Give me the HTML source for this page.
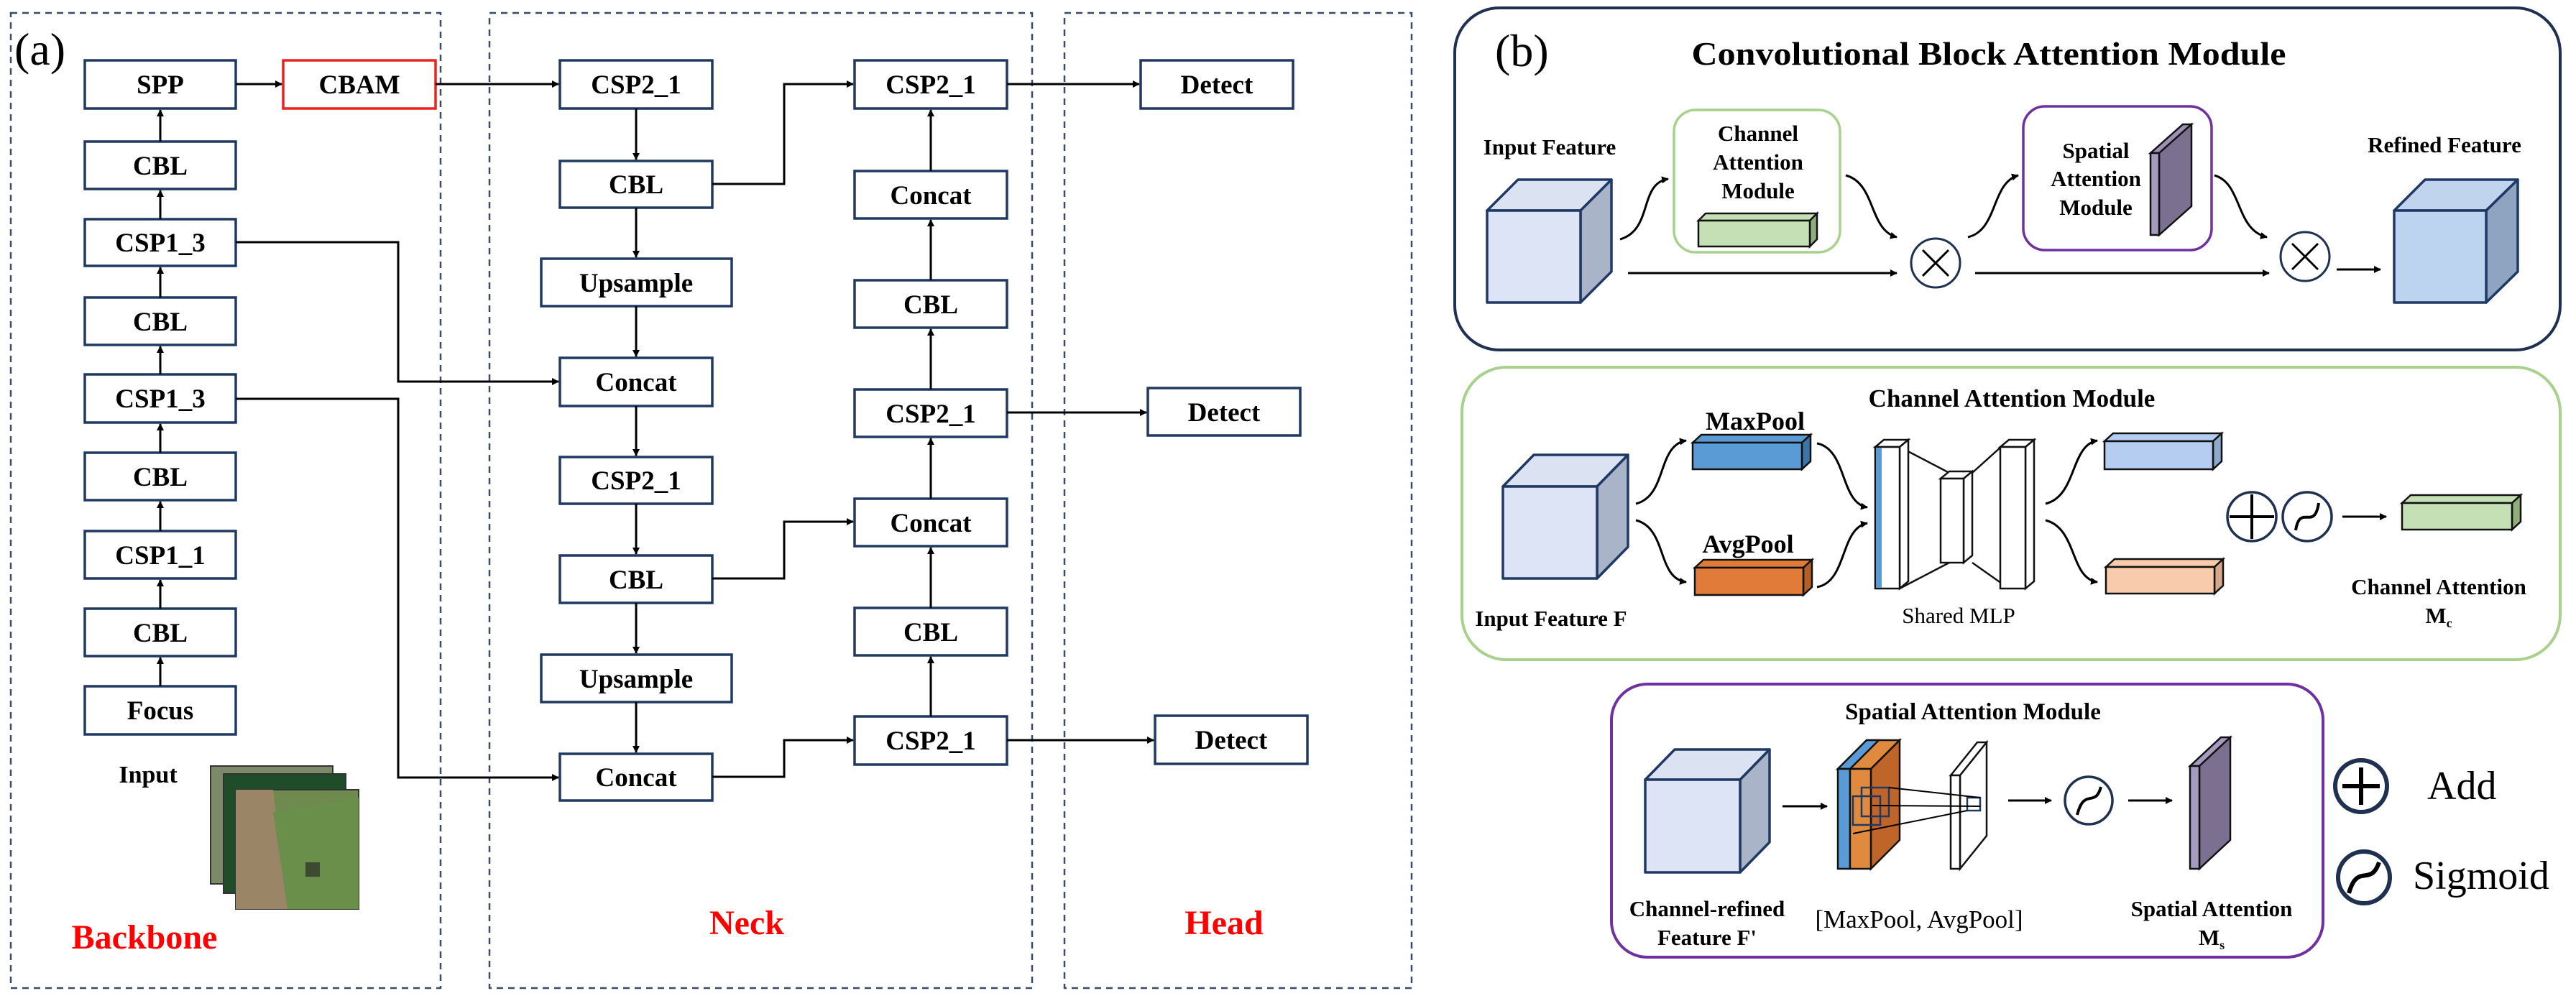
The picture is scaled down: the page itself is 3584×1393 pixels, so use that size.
<!DOCTYPE html>
<html><head><meta charset="utf-8"><style>
html,body{margin:0;padding:0;background:#fff;}
svg{display:block;font-family:"Liberation Serif","Times New Roman",serif;}
svg text{font-family:"Liberation Serif","Times New Roman",serif;}
</style></head><body>
<svg width="3584" height="1393" viewBox="0 0 3584 1393" xmlns="http://www.w3.org/2000/svg" font-family="Liberation Serif, serif">
<defs>
<marker id="ar" markerWidth="10" markerHeight="10" refX="9" refY="5" orient="auto" markerUnits="userSpaceOnUse" viewBox="0 0 10 10">
<path d="M0,0 L10,5 L0,10 z" fill="#000"/></marker>
</defs>

<g fill="none" stroke="#3a4a6b" stroke-width="2.5" stroke-dasharray="9,7">
<rect x="15" y="18" width="598" height="1357"/>
<rect x="681" y="18" width="755" height="1357"/>
<rect x="1481" y="18" width="483" height="1357"/>
</g>
<text x="20" y="90" font-size="64" font-family="Liberation Serif, serif">(a)</text>

<g fill="#fff" stroke="#1f3864" stroke-width="3.5">
<rect x="118" y="84" width="210" height="67"/>
<rect x="118" y="197" width="210" height="66"/>
<rect x="118" y="305" width="210" height="65"/>
<rect x="118" y="414" width="210" height="66"/>
<rect x="118" y="521" width="210" height="67"/>
<rect x="118" y="630" width="210" height="66"/>
<rect x="118" y="739" width="210" height="66"/>
<rect x="118" y="847" width="210" height="66"/>
<rect x="118" y="955" width="210" height="67"/>
<rect x="779" y="84" width="212" height="67"/>
<rect x="779" y="224" width="212" height="65"/>
<rect x="753" y="360" width="265" height="66"/>
<rect x="779" y="498" width="212" height="67"/>
<rect x="779" y="636" width="212" height="65"/>
<rect x="779" y="773" width="212" height="66"/>
<rect x="753" y="911" width="265" height="66"/>
<rect x="779" y="1049" width="212" height="65"/>
<rect x="1189" y="84" width="212" height="67"/>
<rect x="1189" y="238" width="212" height="66"/>
<rect x="1189" y="390" width="212" height="66"/>
<rect x="1189" y="542" width="212" height="66"/>
<rect x="1189" y="694" width="212" height="66"/>
<rect x="1189" y="846" width="212" height="66"/>
<rect x="1189" y="997" width="212" height="67"/>
<rect x="1587" y="84" width="212" height="67"/>
<rect x="1597" y="540" width="212" height="66"/>
<rect x="1607" y="996" width="212" height="67"/>
</g>
<rect x="394" y="84" width="212" height="67" fill="#fff" stroke="#e8231f" stroke-width="3.5"/>

<g font-size="37" text-anchor="middle" font-weight="bold" font-family="Liberation Serif, serif">
<text x="223" y="130">SPP</text>
<text x="223" y="243">CBL</text>
<text x="223" y="350">CSP1_3</text>
<text x="223" y="460">CBL</text>
<text x="223" y="567">CSP1_3</text>
<text x="223" y="676">CBL</text>
<text x="223" y="785">CSP1_1</text>
<text x="223" y="893">CBL</text>
<text x="223" y="1001">Focus</text>
<text x="500" y="130">CBAM</text>
<text x="885" y="130">CSP2_1</text>
<text x="885" y="269">CBL</text>
<text x="885" y="406">Upsample</text>
<text x="885" y="544">Concat</text>
<text x="885" y="681">CSP2_1</text>
<text x="885" y="819">CBL</text>
<text x="885" y="957">Upsample</text>
<text x="885" y="1094">Concat</text>
<text x="1295" y="130">CSP2_1</text>
<text x="1295" y="284">Concat</text>
<text x="1295" y="436">CBL</text>
<text x="1295" y="588">CSP2_1</text>
<text x="1295" y="740">Concat</text>
<text x="1295" y="892">CBL</text>
<text x="1295" y="1043">CSP2_1</text>
<text x="1693" y="130">Detect</text>
<text x="1703" y="586">Detect</text>
<text x="1713" y="1042">Detect</text>
<text x="206" y="1089" font-size="34">Input</text>
</g>
<g font-weight="bold" fill="#ff0000" text-anchor="middle" font-size="48" font-family="Liberation Serif, serif">
<text x="201" y="1320">Backbone</text>
<text x="1039" y="1300">Neck</text>
<text x="1703" y="1300">Head</text>
</g>

<rect x="293" y="1066" width="170" height="164" fill="#7d8a6a" stroke="#333" stroke-width="2"/>
<rect x="311" y="1077" width="170" height="166" fill="#1f4d2a" stroke="#333" stroke-width="2"/>
<rect x="328" y="1099" width="171" height="166" fill="#6f8a4e" stroke="#333" stroke-width="2"/>
<polygon points="328,1099 380,1099 400,1265 328,1265" fill="#9a8566"/>
<polygon points="380,1130 499,1110 499,1265 400,1265" fill="#6a8f4a"/>
<rect x="425" y="1200" width="20" height="20" fill="#3c4a30"/>

<g stroke="#000" stroke-width="3" fill="none" marker-end="url(#ar)">
<line x1="223" y1="197" x2="223" y2="153"/>
<line x1="223" y1="305" x2="223" y2="265"/>
<line x1="223" y1="414" x2="223" y2="372"/>
<line x1="223" y1="521" x2="223" y2="482"/>
<line x1="223" y1="630" x2="223" y2="590"/>
<line x1="223" y1="739" x2="223" y2="698"/>
<line x1="223" y1="847" x2="223" y2="807"/>
<line x1="223" y1="955" x2="223" y2="915"/>
<line x1="328" y1="117" x2="392" y2="117"/>
<line x1="606" y1="117" x2="777" y2="117"/>
<polyline points="328,337 554,337 554,531 777,531"/>
<polyline points="328,555 554,555 554,1082 777,1082"/>
<line x1="885" y1="151" x2="885" y2="222"/>
<line x1="885" y1="289" x2="885" y2="358"/>
<line x1="885" y1="426" x2="885" y2="496"/>
<line x1="885" y1="565" x2="885" y2="634"/>
<line x1="885" y1="701" x2="885" y2="771"/>
<line x1="885" y1="839" x2="885" y2="909"/>
<line x1="885" y1="977" x2="885" y2="1047"/>
<polyline points="991,256 1091,256 1091,117 1187,117"/>
<polyline points="991,805 1091,805 1091,726 1187,726"/>
<polyline points="991,1081 1091,1081 1091,1030 1187,1030"/>
<line x1="1295" y1="238" x2="1295" y2="153"/>
<line x1="1295" y1="390" x2="1295" y2="306"/>
<line x1="1295" y1="542" x2="1295" y2="458"/>
<line x1="1295" y1="694" x2="1295" y2="610"/>
<line x1="1295" y1="846" x2="1295" y2="762"/>
<line x1="1295" y1="997" x2="1295" y2="914"/>
<line x1="1401" y1="117" x2="1585" y2="117"/>
<line x1="1401" y1="574" x2="1595" y2="574"/>
<line x1="1401" y1="1030" x2="1605" y2="1030"/>
</g>

<!-- Panel B -->
<rect x="2024" y="11" width="1538" height="476" rx="62" fill="none" stroke="#1f3050" stroke-width="4"/>
<text x="2080" y="92" font-size="64" font-family="Liberation Serif, serif">(b)</text>
<text x="2767" y="90" font-size="46" font-weight="bold" text-anchor="middle" textLength="827" lengthAdjust="spacingAndGlyphs" font-family="Liberation Serif, serif">Convolutional Block Attention Module</text>

<g stroke="#1f3864" stroke-width="3.5" stroke-linejoin="round">
<polygon points="2069,293 2112,250 2242,250 2199,293" fill="#dbe3f3"/>
<polygon points="2199,293 2242,250 2242,378 2199,421" fill="#aab4c8"/>
<rect x="2069" y="293" width="130" height="128" fill="#dce4f5"/>
</g>

<g font-size="31" font-weight="bold" text-anchor="middle" font-family="Liberation Serif, serif">
<text x="2156" y="215">Input Feature</text>
<text x="2446" y="196">Channel</text>
<text x="2446" y="236">Attention</text>
<text x="2446" y="276">Module</text>
<text x="2916" y="220">Spatial</text>
<text x="2916" y="259">Attention</text>
<text x="2916" y="299">Module</text>
<text x="3401" y="212">Refined Feature</text>
</g>

<rect x="2329" y="153" width="231" height="198" rx="30" fill="none" stroke="#a9d18e" stroke-width="3.5"/>
<g stroke="#111" stroke-width="2.5">
<polygon points="2363,307 2373,297 2528,297 2518,307" fill="#c5e0b4"/>
<polygon points="2518,307 2528,297 2528,333 2518,343" fill="#8fae7c"/>
<rect x="2363" y="307" width="155" height="36" fill="#c5e0b4"/>
</g>

<rect x="2815" y="148" width="262" height="200" rx="30" fill="none" stroke="#7030a0" stroke-width="3.5"/>
<g stroke="#111" stroke-width="2.5">
<polygon points="2992,213 3037,173 3049,173 3004,213" fill="#9c90b5"/>
<polygon points="3004,213 3049,173 3049,287 3004,327" fill="#7b7090"/>
<rect x="2992" y="213" width="12" height="114" fill="#a59bbf"/>
</g>

<g stroke="#1f3864" stroke-width="3.5" stroke-linejoin="round">
<polygon points="3331,293 3374,250 3503,250 3459,293" fill="#c0d4ee"/>
<polygon points="3459,293 3503,250 3503,378 3459,421" fill="#8ea4c0"/>
<rect x="3331" y="293" width="128" height="128" fill="#bdd4f0"/>
</g>

<g stroke="#000" stroke-width="3" fill="none" marker-end="url(#ar)">
<path d="M2254,333 C2300,320 2280,255 2321,249"/>
<path d="M2568,244 C2610,255 2600,320 2639,330"/>
<line x1="2265" y1="380" x2="2639" y2="380"/>
<path d="M2738,330 C2780,320 2770,255 2808,244"/>
<path d="M3081,244 C3120,255 3110,320 3154,330"/>
<line x1="2748" y1="380" x2="3157" y2="380"/>
<line x1="3251" y1="375" x2="3312" y2="375"/>
</g>
<g stroke="#1f3050" stroke-width="3" fill="#fff">
<circle cx="2693" cy="366" r="34"/>
<circle cx="3207" cy="357" r="34"/>
</g>
<g stroke="#000" stroke-width="3">
<line x1="2675" y1="348" x2="2711" y2="384"/><line x1="2711" y1="348" x2="2675" y2="384"/>
<line x1="3189" y1="339" x2="3225" y2="375"/><line x1="3225" y1="339" x2="3189" y2="375"/>
</g>

<!-- Channel Attention Module -->
<rect x="2034" y="511" width="1528" height="407" rx="62" fill="none" stroke="#a9d18e" stroke-width="4"/>
<g stroke="#1f3864" stroke-width="3.5" stroke-linejoin="round">
<polygon points="2091,677 2134,633 2265,633 2222,677" fill="#dbe3f3"/>
<polygon points="2222,677 2265,633 2265,761 2222,805" fill="#aab4c8"/>
<rect x="2091" y="677" width="131" height="128" fill="#dce4f5"/>
</g>
<g font-weight="bold" text-anchor="middle" font-family="Liberation Serif, serif">
<text x="2799" y="566" font-size="35">Channel Attention Module</text>
<text x="2158" y="871" font-size="31">Input Feature F</text>
<text x="2442" y="598" font-size="36">MaxPool</text>
<text x="2432" y="769" font-size="36">AvgPool</text>
<text x="3393" y="827" font-size="31">Channel Attention</text>
<text x="3393" y="867" font-size="31">M<tspan font-size="18" dy="6">c</tspan></text>
</g>
<g stroke="#111" stroke-width="2.5">
<polygon points="2355,616 2367,605 2519,605 2507,616" fill="#5b9bd5"/>
<polygon points="2507,616 2519,605 2519,642 2507,653" fill="#3f74a8"/>
<rect x="2355" y="616" width="152" height="37" fill="#5b9bd5"/>
<polygon points="2358,790 2370,779 2521,779 2509,790" fill="#e07b39"/>
<polygon points="2509,790 2521,779 2521,817 2509,828" fill="#b35f28"/>
<rect x="2358" y="790" width="151" height="38" fill="#e07b39"/>
<polygon points="2928,614 2940,603 3091,603 3079,614" fill="#b4cdf0"/>
<polygon points="3079,614 3091,603 3091,642 3079,653" fill="#8fa8cc"/>
<rect x="2928" y="614" width="151" height="39" fill="#b4cdf0"/>
<polygon points="2930,789 2942,778 3093,778 3081,789" fill="#f8cbad"/>
<polygon points="3081,789 3093,778 3093,815 3081,826" fill="#d5a88a"/>
<rect x="2930" y="789" width="151" height="37" fill="#f8cbad"/>
<polygon points="3342,700 3354,689 3507,689 3495,700" fill="#c5e0b4"/>
<polygon points="3495,700 3507,689 3507,726 3495,737" fill="#8fae7c"/>
<rect x="3342" y="700" width="153" height="37" fill="#c5e0b4"/>
</g>
<g stroke="#111" stroke-width="2.5" fill="#fff">
<line x1="2643" y1="622" x2="2712" y2="658"/><line x1="2643" y1="819" x2="2712" y2="783"/>
<line x1="2744" y1="658" x2="2795" y2="612"/><line x1="2744" y1="783" x2="2795" y2="819"/>
<polygon points="2609,622 2621,612 2655,612 2643,622"/>
<polygon points="2643,622 2655,612 2655,809 2643,819"/>
<rect x="2609" y="622" width="34" height="197"/>
<rect x="2610" y="623" width="8" height="195" fill="#5b9bd5" stroke="none"/>
<polygon points="2700,666 2712,656 2744,656 2732,666"/>
<polygon points="2732,666 2744,656 2744,773 2732,783"/>
<rect x="2700" y="666" width="32" height="117"/>
<polygon points="2783,622 2795,612 2830,612 2818,622"/>
<polygon points="2818,622 2830,612 2830,809 2818,819"/>
<rect x="2783" y="622" width="35" height="197"/>
</g>
<text x="2725" y="867" font-size="31" text-anchor="middle" font-family="Liberation Serif, serif">Shared MLP</text>
<g stroke="#000" stroke-width="3" fill="none" marker-end="url(#ar)">
<path d="M2276,701 C2320,690 2305,620 2346,613"/>
<path d="M2276,724 C2320,735 2305,805 2346,810"/>
<path d="M2528,617 C2570,625 2560,700 2598,706"/>
<path d="M2528,817 C2570,810 2560,735 2598,728"/>
<path d="M2846,701 C2890,690 2880,620 2918,613"/>
<path d="M2846,724 C2890,735 2880,805 2918,810"/>
<line x1="3259" y1="719" x2="3320" y2="719"/>
</g>
<g stroke="#1f3050" stroke-width="3.5" fill="#fff">
<circle cx="3133" cy="719" r="34"/>
<circle cx="3210" cy="719" r="34"/>
</g>
<g stroke="#000" stroke-width="4" fill="none">
<line x1="3133" y1="688" x2="3133" y2="750"/><line x1="3102" y1="719" x2="3164" y2="719"/>
<path d="M3194,738 C3200,700 3220,740 3226,700"/>
</g>

<!-- Spatial Attention Module -->
<rect x="2242" y="952" width="990" height="380" rx="50" fill="none" stroke="#7030a0" stroke-width="4"/>
<g stroke="#1f3864" stroke-width="3.5" stroke-linejoin="round">
<polygon points="2289,1085 2330,1043 2462,1043 2421,1085" fill="#dbe3f3"/>
<polygon points="2421,1085 2462,1043 2462,1172 2421,1214" fill="#aab4c8"/>
<rect x="2289" y="1085" width="132" height="129" fill="#dce4f5"/>
</g>
<g stroke="#111" stroke-width="2.5">
<polygon points="2557,1070 2597,1030 2643,1030 2603,1070" fill="#e08a3e"/>
<polygon points="2557,1070 2597,1030 2614,1030 2574,1070" fill="#5b9bd5"/>
<polygon points="2603,1070 2643,1030 2643,1169 2603,1209" fill="#c0652a"/>
<rect x="2557" y="1070" width="17" height="139" fill="#5b9bd5"/>
<rect x="2574" y="1070" width="29" height="139" fill="#e08a3e"/>
<polygon points="2714,1079 2751,1033 2764,1033 2727,1079" fill="#fff"/>
<polygon points="2727,1079 2764,1033 2764,1163 2727,1209" fill="#fff"/>
<rect x="2714" y="1079" width="13" height="130" fill="#fff"/>
<polygon points="3047,1066 3090,1026 3103,1026 3060,1066" fill="#a59bbf"/>
<polygon points="3060,1066 3103,1026 3103,1169 3060,1209" fill="#7b7090"/>
<rect x="3047" y="1066" width="13" height="143" fill="#a59bbf"/>
</g>
<g stroke="#1f3864" stroke-width="2.5" fill="none">
<rect x="2578" y="1108" width="38" height="40"/><rect x="2590" y="1096" width="38" height="40"/>
<rect x="2737" y="1110" width="18" height="18"/>
</g>
<g stroke="#000" stroke-width="2">
<line x1="2628" y1="1096" x2="2755" y2="1110"/><line x1="2605" y1="1121" x2="2755" y2="1122"/><line x1="2578" y1="1160" x2="2737" y2="1128"/>
</g>
<g stroke="#000" stroke-width="3" fill="none" marker-end="url(#ar)">
<line x1="2480" y1="1122" x2="2542" y2="1122"/>
<line x1="2794" y1="1114" x2="2854" y2="1114"/>
<line x1="2961" y1="1114" x2="3022" y2="1114"/>
</g>
<circle cx="2906" cy="1114" r="33" fill="#fff" stroke="#1f3050" stroke-width="3.5"/>
<path d="M2890,1134 C2900,1095 2915,1125 2923,1095" stroke="#000" stroke-width="4" fill="none"/>
<g font-size="31" font-weight="bold" text-anchor="middle" font-family="Liberation Serif, serif">
<text x="2745" y="1001" font-size="33">Spatial Attention Module</text>
<text x="2375" y="1275">Channel-refined</text>
<text x="2375" y="1315">Feature F'</text>
<text x="3077" y="1275">Spatial Attention</text>
<text x="3077" y="1315">M<tspan font-size="18" dy="6">s</tspan></text>
</g>
<text x="2670" y="1291" font-size="35" text-anchor="middle" font-family="Liberation Serif, serif">[MaxPool, AvgPool]</text>

<circle cx="3285" cy="1094" r="36" fill="#fff" stroke="#1f3050" stroke-width="6"/>
<line x1="3285" y1="1068" x2="3285" y2="1120" stroke="#000" stroke-width="6"/>
<line x1="3259" y1="1094" x2="3311" y2="1094" stroke="#000" stroke-width="6"/>
<text x="3377" y="1112" font-size="56" font-family="Liberation Serif, serif">Add</text>
<circle cx="3289" cy="1221" r="36" fill="#fff" stroke="#1f3050" stroke-width="6"/>
<path d="M3268,1243 C3280,1200 3298,1235 3310,1200" stroke="#000" stroke-width="6" fill="none"/>
<text x="3357" y="1237" font-size="56" font-family="Liberation Serif, serif">Sigmoid</text>
</svg>
</body></html>
